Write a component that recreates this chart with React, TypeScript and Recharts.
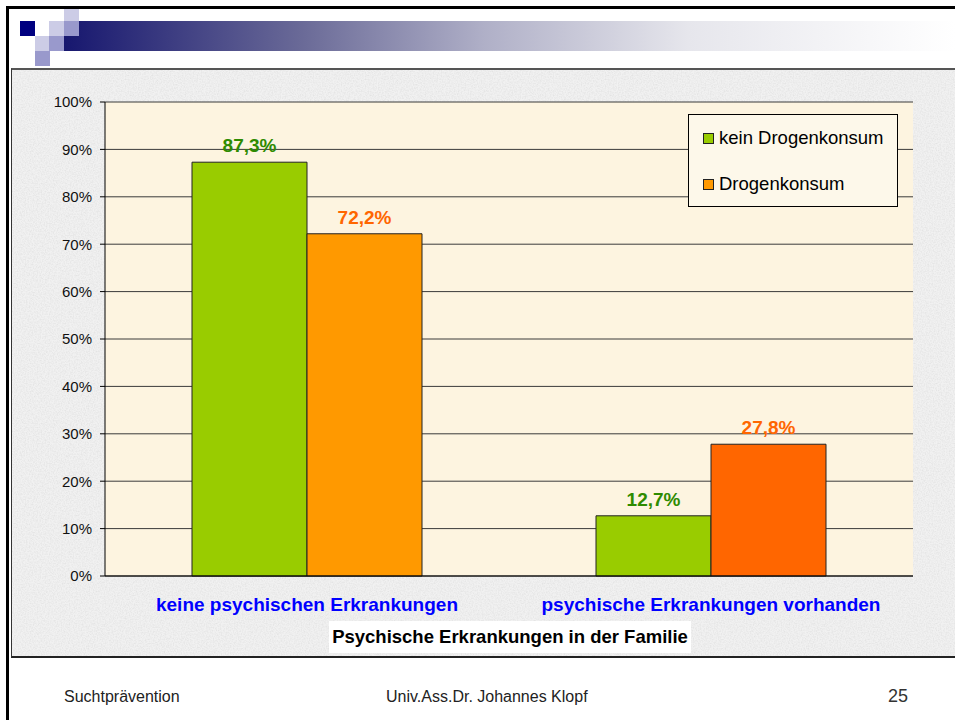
import React from 'react';
import { BarChart, Bar, XAxis, YAxis, CartesianGrid, Legend, LabelList, Cell } from 'recharts';

const categories = ['keine psychischen Erkrankungen', 'psychische Erkrankungen vorhanden'];
const keinDrogenkonsum = [87.3, 12.7];
const drogenkonsum = [72.2, 27.8];
const seriesNames = ['kein Drogenkonsum', 'Drogenkonsum'];
const keinColor = '#99CC00';
const drogenColors = ['#FF9900', '#FF6600'];
const yTicks = [0, 10, 20, 30, 40, 50, 60, 70, 80, 90, 100];
const boundaryTicks = [0, 1, 2];
const axisTitle = 'Psychische Erkrankungen in der Familie';
const footerLeft = 'Suchtprävention';
const footerCenter = 'Univ.Ass.Dr. Johannes Klopf';
const pageNumber = '25';

const data = categories.map((c, i) => ({
  category: c,
  kein: keinDrogenkonsum[i],
  drogen: drogenkonsum[i],
}));

const FONT = '"Liberation Sans", Arial, sans-serif';
const fmt = (v: number) => `${Number(v).toFixed(1).replace('.', ',')}%`;

const noise =
  "url(\"data:image/svg+xml;utf8,<svg xmlns='http://www.w3.org/2000/svg' width='240' height='240'><filter id='n'><feTurbulence type='fractalNoise' baseFrequency='0.75' numOctaves='2' seed='3'/><feColorMatrix values='0 0 0 0 0.6  0 0 0 0 0.6  0 0 0 0 0.6  0.7 0 0 0 -0.25'/></filter><rect width='100%' height='100%' filter='url(%23n)'/></svg>\")";

const renderLegend = (props: any) => {
  const payload = [...(props.payload || [])].sort(
    (a: any, b: any) => seriesNames.indexOf(a.value) - seriesNames.indexOf(b.value)
  );
  return (
    <div
      style={{
        width: 208,
        height: 91,
        border: '1px solid #000',
        background: '#FDF8EA',
        position: 'relative',
        fontFamily: FONT,
      }}
    >
      {payload.map((p: any, i: number) => (
        <div
          key={i}
          style={{
            position: 'absolute',
            left: 14,
            top: 12 + i * 46,
            height: 22,
            display: 'flex',
            alignItems: 'center',
            whiteSpace: 'nowrap',
          }}
        >
          <span
            style={{
              display: 'inline-block',
              width: 9,
              height: 9,
              border: '1px solid #222',
              background: p.color,
              marginRight: 5,
            }}
          />
          <span style={{ fontSize: 18.5, color: '#000' }}>{p.value}</span>
        </div>
      ))}
    </div>
  );
};

const sq = (left: number, top: number, color: string) => (
  <div style={{ position: 'absolute', left, top, width: 15, height: 15, background: color }} />
);

export default function App() {
  return (
    <div
      style={{
        position: 'absolute',
        left: 0,
        top: 0,
        width: 955,
        height: 720,
        background: '#FFFFFF',
        overflow: 'hidden',
        fontFamily: FONT,
      }}
    >
      {/* header gradient bar */}
      <div
        style={{
          position: 'absolute',
          left: 64,
          top: 21,
          width: 891,
          height: 30,
          background:
            'linear-gradient(to right, #17176F 0%, #6B6B98 27%, #AFAFC7 47%, #E6E6EC 70%, #FFFFFF 100%)',
        }}
      />
      {sq(64, 6, '#CCCCE6')}
      {sq(20, 21, '#000080')}
      {sq(49, 21, '#CCCCE6')}
      {sq(64, 21, '#9999CC')}
      {sq(35, 36, '#CCCCE6')}
      {sq(49, 36, '#9999CC')}
      {sq(35, 51, '#9999CC')}
      {/* slide frame */}
      <div style={{ position: 'absolute', left: 6, top: 6, width: 3, height: 714, background: '#000' }} />
      <div style={{ position: 'absolute', left: 6, top: 6, width: 949, height: 3, background: '#000' }} />
      {/* chart frame */}
      <div
        style={{
          position: 'absolute',
          left: 11,
          top: 68,
          width: 960,
          height: 586,
          backgroundColor: '#F1F1F1',
          backgroundImage: noise,
          borderTop: '2px solid #555',
          borderLeft: '1px solid #333',
          borderBottom: '2px solid #222',
        }}
      />
      <div style={{ position: 'absolute', left: 0, top: 0 }}>
        <BarChart
          width={955}
          height={720}
          data={data}
          margin={{ top: 102, right: 42, bottom: 104, left: 45 }}
          barGap={0}
          barSize={115}
        >
          <CartesianGrid vertical={false} stroke="#3A3A3A" fill="#FDF4E0" fillOpacity={1} />
          <XAxis
            xAxisId={0}
            type="number"
            domain={[0, 2]}
            ticks={boundaryTicks}
            height={0}
            axisLine={false}
            tickLine={{ stroke: '#000' }}
            tickSize={5}
            tickFormatter={() => ''}
            allowDataOverflow
          />
          <XAxis
            xAxisId="cat"
            dataKey="category"
            type="category"
            height={40}
            axisLine={{ stroke: '#000' }}
            tickLine={false}
            tickSize={0}
            tickMargin={22}
            interval={0}
            tick={{ fontSize: 19, fontWeight: 'bold', fill: '#0000FF' }}
          />
          <YAxis
            domain={[0, 100]}
            ticks={yTicks}
            width={60}
            axisLine={{ stroke: '#000' }}
            tickLine={{ stroke: '#000' }}
            tickSize={5}
            tickMargin={8}
            tick={{ fontSize: 15, fill: '#111' }}
            tickFormatter={(v: number) => `${v}%`}
          />
          <YAxis
            yAxisId="right"
            orientation="right"
            domain={[0, 100]}
            width={0}
            tick={false}
            tickLine={false}
            axisLine={{ stroke: '#555' }}
          />
          <Legend
            layout="horizontal"
            align="center"
            verticalAlign="middle"
            wrapperStyle={{ left: 688, top: 114, width: 210, height: 93 }}
            content={renderLegend}
          />
          <Bar
            xAxisId="cat"
            dataKey="kein"
            name={seriesNames[0]}
            fill={keinColor}
            stroke="#222"
            strokeWidth={1}
            legendType="square"
            isAnimationActive={false}
          >
            <LabelList
              dataKey="kein"
              position="top"
              offset={10}
              formatter={fmt}
              fill="#2E8B00"
              fontSize={19}
              fontWeight="bold"
            />
          </Bar>
          <Bar
            xAxisId="cat"
            dataKey="drogen"
            name={seriesNames[1]}
            fill={drogenColors[0]}
            stroke="#222"
            strokeWidth={1}
            legendType="square"
            isAnimationActive={false}
          >
            {data.map((_, i) => (
              <Cell key={i} fill={drogenColors[i]} />
            ))}
            <LabelList
              dataKey="drogen"
              position="top"
              offset={10}
              formatter={fmt}
              fill="#FF6600"
              fontSize={19}
              fontWeight="bold"
            />
          </Bar>
        </BarChart>
      </div>
      {/* axis title */}
      <div
        style={{
          position: 'absolute',
          left: 329,
          top: 621,
          width: 362,
          height: 32,
          background: '#FFFFFF',
          textAlign: 'center',
          lineHeight: '32px',
          fontSize: 18.5,
          fontWeight: 'bold',
          color: '#000',
          whiteSpace: 'nowrap',
        }}
      >
        {axisTitle}
      </div>
      {/* footer */}
      <div style={{ position: 'absolute', left: 64, top: 688, fontSize: 16, lineHeight: '18px', color: '#222' }}>
        {footerLeft}
      </div>
      <div style={{ position: 'absolute', left: 386, top: 688, fontSize: 16, lineHeight: '18px', color: '#222', whiteSpace: 'nowrap' }}>
        {footerCenter}
      </div>
      <div style={{ position: 'absolute', left: 888, top: 686, fontSize: 18, lineHeight: '20px', color: '#333' }}>
        {pageNumber}
      </div>
    </div>
  );
}
